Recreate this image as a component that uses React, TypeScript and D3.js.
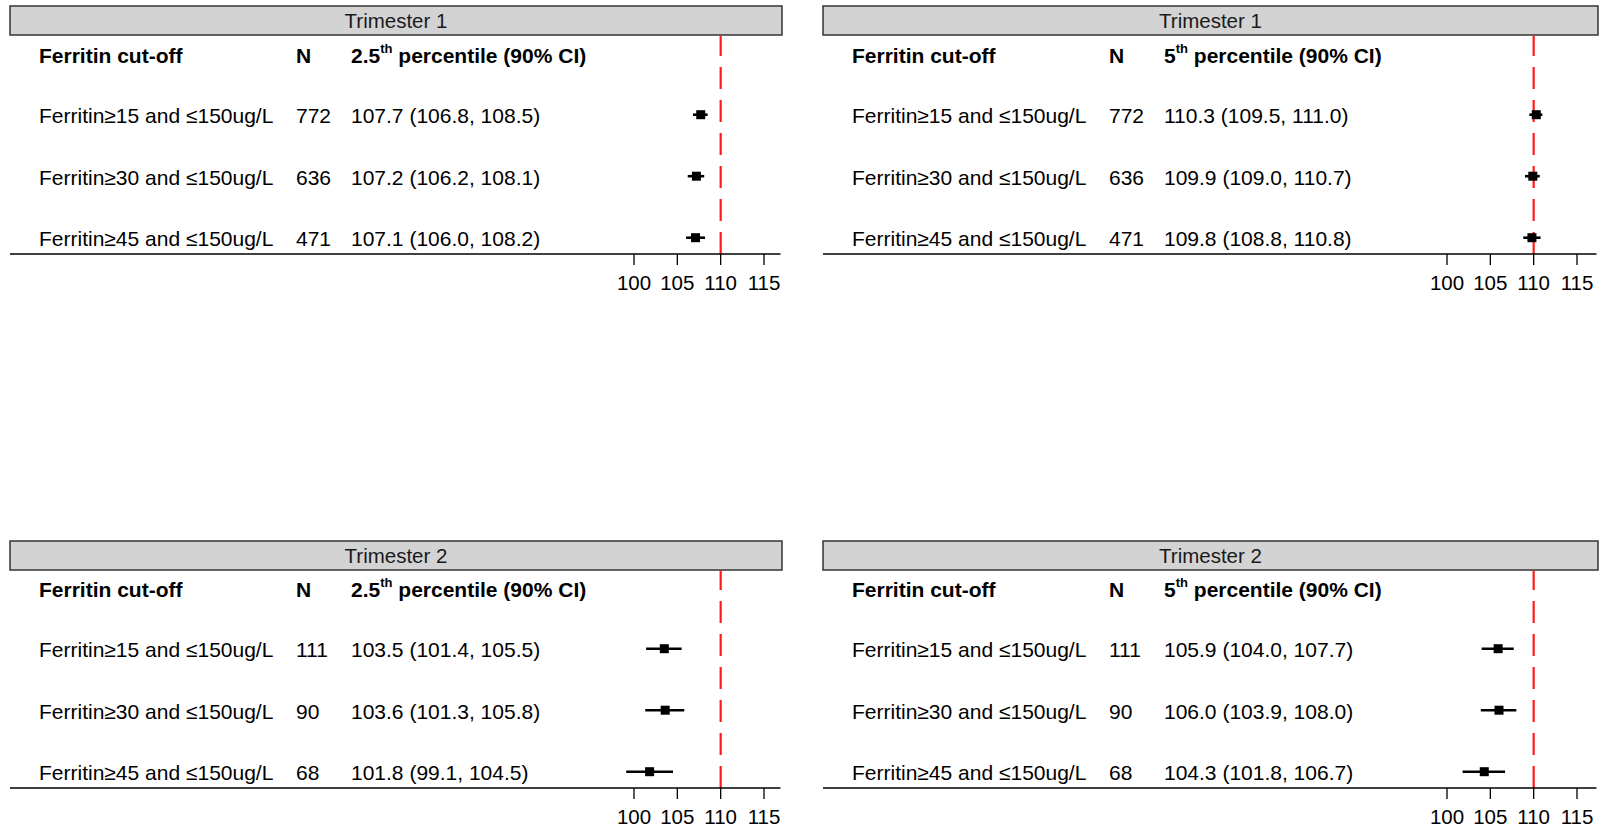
import React from "react";
import * as d3 from "d3";

const cutoffs = [
  "Ferritin≥15 and ≤150ug/L",
  "Ferritin≥30 and ≤150ug/L",
  "Ferritin≥45 and ≤150ug/L",
];
const nTrimester1 = [772, 636, 471];
const nTrimester2 = [111, 90, 68];

const t1p25Est = [107.7, 107.2, 107.1];
const t1p25Lo = [106.8, 106.2, 106.0];
const t1p25Hi = [108.5, 108.1, 108.2];

const t1p5Est = [110.3, 109.9, 109.8];
const t1p5Lo = [109.5, 109.0, 108.8];
const t1p5Hi = [111.0, 110.7, 110.8];

const t2p25Est = [103.5, 103.6, 101.8];
const t2p25Lo = [101.4, 101.3, 99.1];
const t2p25Hi = [105.5, 105.8, 104.5];

const t2p5Est = [105.9, 106.0, 104.3];
const t2p5Lo = [104.0, 103.9, 101.8];
const t2p5Hi = [107.7, 108.0, 106.7];

const tickValues = [100, 105, 110, 115];
const refLine = 110;

const panels = [
  { title: "Trimester 1", pct: "2.5", n: nTrimester1, est: t1p25Est, lo: t1p25Lo, hi: t1p25Hi, col: 0, row: 0 },
  { title: "Trimester 1", pct: "5", n: nTrimester1, est: t1p5Est, lo: t1p5Lo, hi: t1p5Hi, col: 1, row: 0 },
  { title: "Trimester 2", pct: "2.5", n: nTrimester2, est: t2p25Est, lo: t2p25Lo, hi: t2p25Hi, col: 0, row: 1 },
  { title: "Trimester 2", pct: "5", n: nTrimester2, est: t2p5Est, lo: t2p5Lo, hi: t2p5Hi, col: 1, row: 1 },
];

const FONT = "'Liberation Sans', Arial, sans-serif";
const panelLeft = [10, 823];
const panelWidth = [772, 775];
const stripTop = [6, 541];
const rowTop = [6, 540];

function Panel({ p }: { p: (typeof panels)[number] }) {
  const left = panelLeft[p.col];
  const width = panelWidth[p.col];
  const sTop = stripTop[p.row];
  const top = rowTop[p.row];
  const stripH = 29;
  const x = d3.scaleLinear().domain([100, 115]).range([left + 624, left + 754]);
  const y = d3.scalePoint<string>().domain(cutoffs).range([top + 108.7, top + 231.7]);
  const axisY = top + 248;
  const headerY = top + 57.2;
  const refX = x(refLine);
  return (
    <g>
      <rect x={left} y={sTop} width={width} height={stripH} fill="#d3d3d3" stroke="#333" strokeWidth={1.5} />
      <text x={left + width / 2} y={sTop + 22} textAnchor="middle" fontSize={20.5} fill="#1a1a1a" fontFamily={FONT}>
        {p.title}
      </text>
      <text x={left + 29} y={headerY} fontSize={21} fontWeight="bold" fontFamily={FONT}>Ferritin cut-off</text>
      <text x={left + 286} y={headerY} fontSize={21} fontWeight="bold" fontFamily={FONT}>N</text>
      <text x={left + 341} y={headerY} fontSize={21} fontWeight="bold" fontFamily={FONT}>
        {p.pct}
        <tspan fontSize={13} dy={-10}>th</tspan>
        <tspan dy={10}> percentile (90% CI)</tspan>
      </text>
      {cutoffs.map((c, i) => {
        const cy = y(c)!;
        return (
          <g key={c}>
            <text x={left + 29} y={cy + 8.3} fontSize={21} fontFamily={FONT}>{c}</text>
            <text x={left + 286} y={cy + 8.3} fontSize={21} fontFamily={FONT}>{p.n[i]}</text>
            <text x={left + 341} y={cy + 8.3} fontSize={21} fontFamily={FONT}>
              {`${p.est[i].toFixed(1)} (${p.lo[i].toFixed(1)}, ${p.hi[i].toFixed(1)})`}
            </text>
          </g>
        );
      })}
      <line
        x1={refX}
        x2={refX}
        y1={axisY}
        y2={sTop + stripH + 0.75}
        stroke="#ff1a1a"
        strokeWidth={2.2}
        strokeDasharray="22 11"
      />
      {cutoffs.map((c, i) => {
        const cy = y(c)!;
        return (
          <g key={"pt" + c}>
            <line x1={x(p.lo[i])} x2={x(p.hi[i])} y1={cy} y2={cy} stroke="#000" strokeWidth={2.6} />
            <rect x={x(p.est[i]) - 4.5} y={cy - 4.5} width={9} height={9} fill="#000" />
          </g>
        );
      })}
      <line x1={left} x2={left + width - 1.5} y1={axisY} y2={axisY} stroke="#000" strokeWidth={1.3} />
      {tickValues.map((t) => (
        <g key={t}>
          <line x1={x(t)} x2={x(t)} y1={axisY} y2={axisY + 11} stroke="#000" strokeWidth={1.3} />
          <text x={x(t)} y={axisY + 36} textAnchor="middle" fontSize={20.5} fontFamily={FONT}>{t}</text>
        </g>
      ))}
    </g>
  );
}

export default function App() {
  return (
    <div style={{ position: "fixed", left: 0, top: 0 }}>
      <svg width={1603} height={829} style={{ display: "block", background: "#fff" }}>
        {panels.map((p, i) => (
          <Panel key={i} p={p} />
        ))}
      </svg>
    </div>
  );
}
